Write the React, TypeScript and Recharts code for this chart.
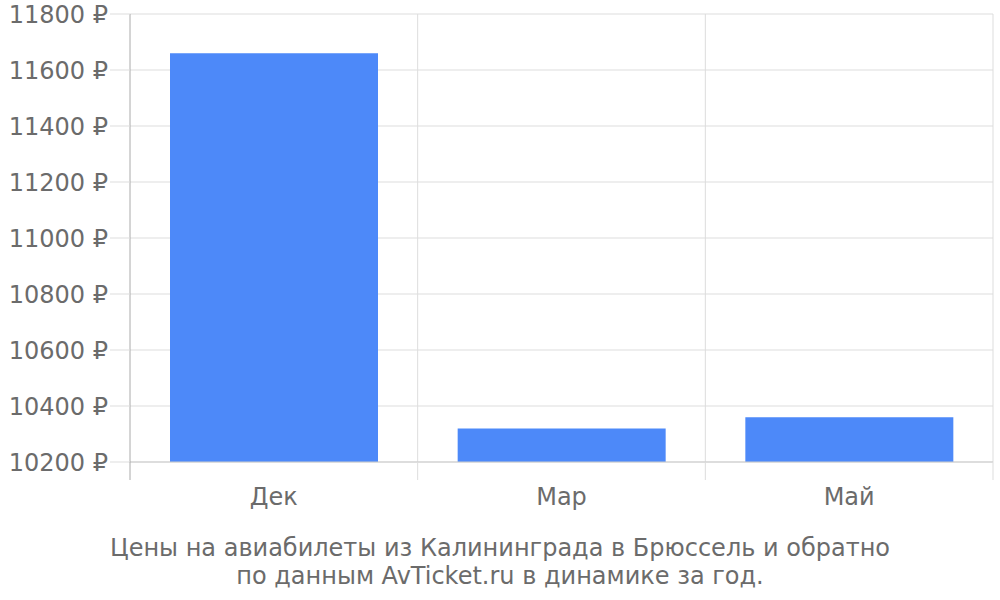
import React from "react";
import { BarChart, Bar, XAxis, YAxis, CartesianGrid } from "recharts";

const months = ["Дек", "Мар", "Май"];
const prices = [11660, 10320, 10360];
const yTicks = [10200, 10400, 10600, 10800, 11000, 11200, 11400, 11600, 11800];
const titleLines = [
    "Цены на авиабилеты из Калининграда в Брюссель и обратно",
    "по данным AvTicket.ru в динамике за год.",
];

const data = months.map((m, i) => ({ month: m, price: prices[i] }));

const FONT = "DejaVu Sans, sans-serif";
const TEXT = "#6b6b6b";
const PLOT_LEFT = 130;
const PLOT_RIGHT = 993;
const BAND = (PLOT_RIGHT - PLOT_LEFT) / months.length;

// label plus the little boundary ticks hanging below the axis
const MonthTick = ({ x, y, payload, index }: any) => {
    const left = x - BAND / 2;
    const right = x + BAND / 2;
    return (
        <g>
            <line x1={left} x2={left} y1={y} y2={y + 18} stroke={index === 0 ? "#aaaaaa" : "#dddddd"} strokeWidth={1} />
            {index === months.length - 1 && (
                <line x1={right} x2={right} y1={y} y2={y + 18} stroke="#dddddd" strokeWidth={1} />
            )}
            <text x={x} y={y + 43} textAnchor="middle" fill={TEXT} fontSize={24} fontFamily={FONT}>
                {payload.value}
            </text>
        </g>
    );
};

export default function App() {
    return (
        <div style={{ position: "absolute", left: 0, top: 0, width: 1000, height: 600, background: "#fff" }}>
            <BarChart
                width={1000}
                height={600}
                data={data}
                margin={{ top: 14, right: 1000 - PLOT_RIGHT, left: 0, bottom: 98 }}
                barCategoryGap={40}
            >
                <CartesianGrid
                    stroke="#dddddd"
                    verticalCoordinatesGenerator={({ offset }: any) =>
                        [1, 2, 3].map((i) => offset.left + (i * offset.width) / 3)
                    }
                />
                <XAxis
                    dataKey="month"
                    height={40}
                    tickLine={false}
                    tickSize={0}
                    tickMargin={0}
                    axisLine={{ stroke: "#cccccc" }}
                    tick={<MonthTick />}
                    interval={0}
                />
                <YAxis
                    width={PLOT_LEFT}
                    domain={[10200, 11800]}
                    ticks={yTicks}
                    interval={0}
                    allowDataOverflow
                    tickSize={20}
                    tickMargin={2}
                    axisLine={{ stroke: "#aaaaaa" }}
                    tickLine={{ stroke: "#dddddd" }}
                    tick={{ fill: TEXT, fontSize: 24, fontFamily: FONT }}
                    tickFormatter={(v) => `${v} ₽`}
                />
                <Bar dataKey="price" fill="#4d89f9" isAnimationActive={false} />
            </BarChart>
            <div
                style={{
                    position: "absolute",
                    left: 0,
                    top: 534,
                    width: 1000,
                    textAlign: "center",
                    color: TEXT,
                    fontFamily: FONT,
                    fontSize: 24,
                    lineHeight: "28px",
                }}
            >
                {titleLines.map((l) => (
                    <div key={l}>{l}</div>
                ))}
            </div>
        </div>
    );
}
